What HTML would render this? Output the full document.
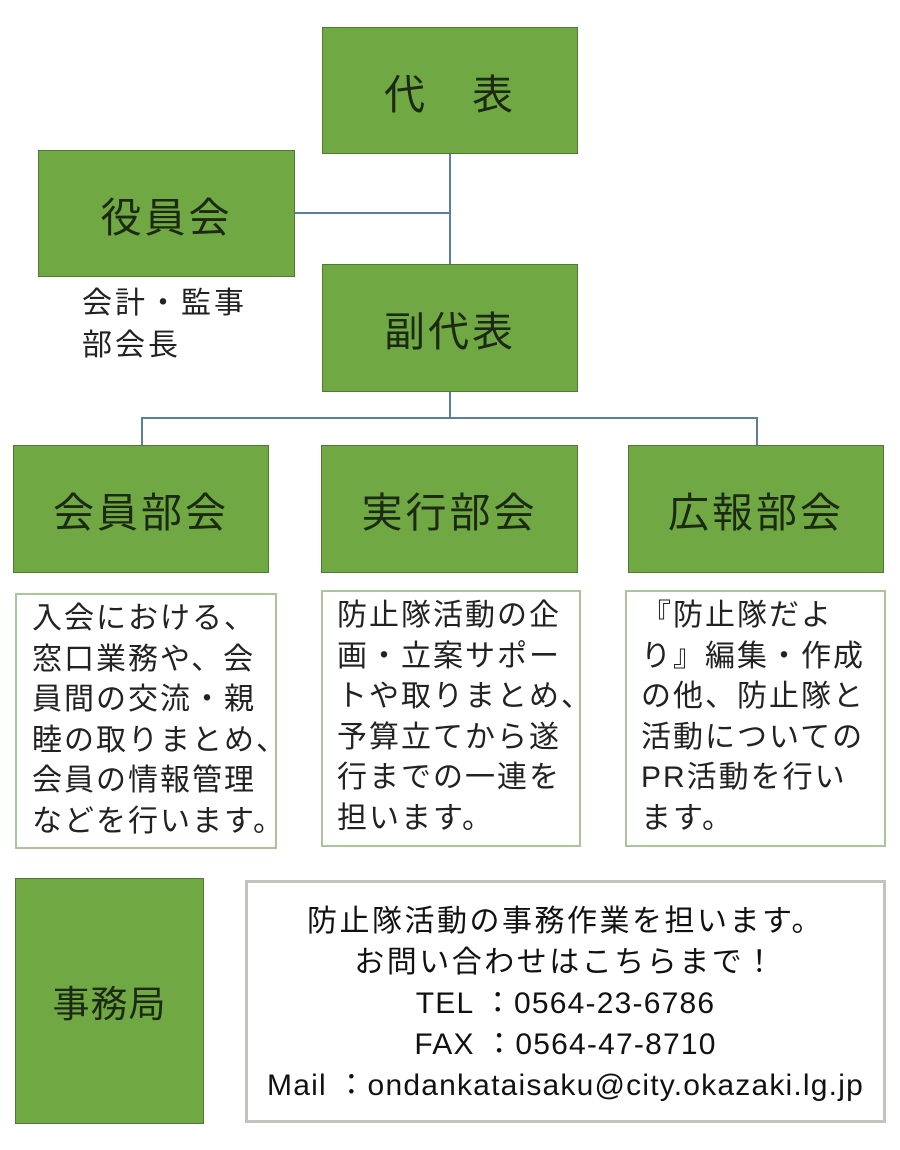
<!DOCTYPE html>
<html><head><meta charset="utf-8"><style>
body{margin:0;width:900px;height:1150px;background:#fff;position:relative;overflow:hidden;font-family:"Liberation Sans","Noto Sans CJK JP",sans-serif;}
.g{position:absolute;background:#70a844;border:1.5px solid #4f7a32;box-sizing:border-box;display:flex;align-items:center;justify-content:center;font-size:41px;letter-spacing:3px;color:#1c2a14;}
.t{position:absolute;border:2px solid #aac59a;box-sizing:border-box;font-size:30px;letter-spacing:2px;line-height:40.5px;color:#222;padding:4px 0 0 14px;white-space:nowrap;}
.l{position:absolute;background:#5b7ea0;}
</style></head><body>
<div class="l" style="left:449px;top:153px;width:2px;height:112px"></div>
<div class="l" style="left:294px;top:212px;width:156px;height:2px"></div>
<div class="l" style="left:449px;top:391px;width:2px;height:28px"></div>
<div class="l" style="left:141px;top:417px;width:617px;height:2px"></div>
<div class="l" style="left:141px;top:417px;width:2px;height:28px"></div>
<div class="l" style="left:756px;top:417px;width:2px;height:28px"></div>
<div class="g" style="left:322px;top:27px;width:256px;height:127px">代　表</div>
<div class="g" style="left:38px;top:150px;width:257px;height:127px">役員会</div>
<div style="position:absolute;left:82px;top:283px;font-size:30px;letter-spacing:3px;line-height:42px;color:#222">会計・監事<br>部会長</div>
<div class="g" style="left:322px;top:264px;width:256px;height:128px">副代表</div>
<div class="g" style="left:13px;top:445px;width:256px;height:128px">会員部会</div>
<div class="g" style="left:321px;top:445px;width:257px;height:128px">実行部会</div>
<div class="g" style="left:628px;top:445px;width:256px;height:128px">広報部会</div>
<div class="t" style="left:15px;top:593px;width:262px;height:256px;padding-left:15px">入会における、<br>窓口業務や、会<br>員間の交流・親<br>睦の取りまとめ、<br>会員の情報管理<br>などを行います。</div>
<div class="t" style="left:321px;top:590px;width:260px;height:257px">防止隊活動の企<br>画・立案サポー<br>トや取りまとめ、<br>予算立てから遂<br>行までの一連を<br>担います。</div>
<div class="t" style="left:625px;top:590px;width:261px;height:257px">『防止隊だよ<br>り』編集・作成<br>の他、防止隊と<br>活動についての<br>PR活動を行い<br>ます。</div>
<div class="g" style="left:15px;top:878px;width:189px;height:246px;font-size:37px;letter-spacing:1px">事務局</div>
<div style="position:absolute;left:245px;top:880px;width:641px;height:243px;box-sizing:border-box;border:3px solid #c4c4bc;text-align:center;font-size:30px;line-height:41px;padding-top:18px;color:#111"><span style="letter-spacing:2.5px">防止隊活動の事務作業を担います。<br>お問い合わせはこちらまで！</span><br><span style="letter-spacing:1.2px">TEL ：0564-23-6786<br>FAX ：0564-47-8710<br>Mail ：ondankataisaku@city.okazaki.lg.jp</span></div>
</body></html>
